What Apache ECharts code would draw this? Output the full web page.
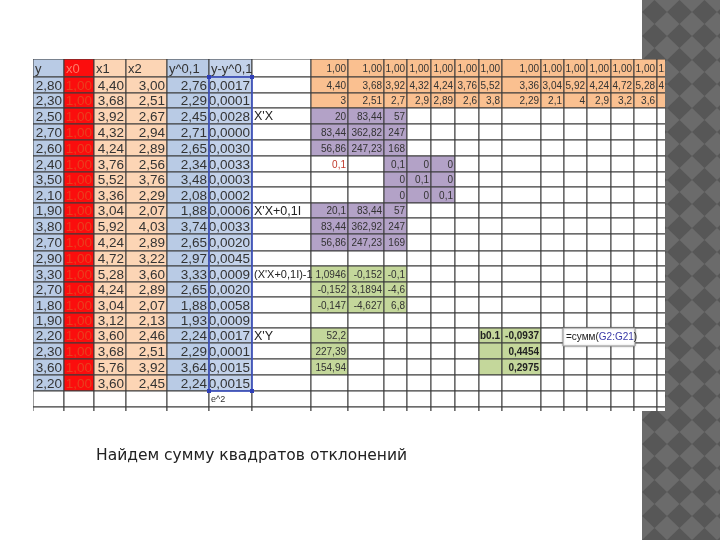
<!DOCTYPE html>
<html>
<head>
<meta charset="utf-8">
<script src="https://cdn.jsdelivr.net/npm/echarts@6/dist/echarts.min.js"></script>
<style>
  html, body { margin: 0; padding: 0; background: #fff; }
  #chart { width: 720px; height: 540px; }
</style>
</head>
<body>
<div id="chart"></div>
<script>
// --- values read from the sheet ---
const headers = ['y', 'x0', 'x1', 'x2', 'y^0,1', 'y-y^0,1'];
const yVals = [2.8, 2.3, 2.5, 2.7, 2.6, 2.4, 3.5, 2.1, 1.9, 3.8, 2.7, 2.9, 3.3, 2.7, 1.8, 1.9, 2.2, 2.3, 3.6, 2.2];
const x0Vals = [1, 1, 1, 1, 1, 1, 1, 1, 1, 1, 1, 1, 1, 1, 1, 1, 1, 1, 1, 1];
const x1Vals = [4.4, 3.68, 3.92, 4.32, 4.24, 3.76, 5.52, 3.36, 3.04, 5.92, 4.24, 4.72, 5.28, 4.24, 3.04, 3.12, 3.6, 3.68, 5.76, 3.6];
const x2Vals = [3, 2.51, 2.67, 2.94, 2.89, 2.56, 3.76, 2.29, 2.07, 4.03, 2.89, 3.22, 3.6, 2.89, 2.07, 2.13, 2.46, 2.51, 3.92, 2.45];
const yHat = [2.76, 2.29, 2.45, 2.71, 2.65, 2.34, 3.48, 2.08, 1.88, 3.74, 2.65, 2.97, 3.33, 2.65, 1.88, 1.93, 2.24, 2.29, 3.64, 2.24];
const resid = [0.0017, 0.0001, 0.0028, 0.0000, 0.0030, 0.0033, 0.0003, 0.0002, 0.0006, 0.0033, 0.0020, 0.0045, 0.0009, 0.0020, 0.0058, 0.0009, 0.0017, 0.0001, 0.0015, 0.0015];

const xtRow0 = [1, 1, 1, 1, 1, 1, 1, 1, 1, 1, 1, 1, 1, 1];
const xtRow1 = [4.4, 3.68, 3.92, 4.32, 4.24, 3.76, 5.52, 3.36, 3.04, 5.92, 4.24, 4.72, 5.28, 4.24];
const xtRow2 = [3, 2.51, 2.7, 2.9, 2.89, 2.6, 3.8, 2.29, 2.1, 4, 2.9, 3.2, 3.6];

const xtx = [[20, 83.44, 57], [83.44, 362.82, 247], [56.86, 247.23, 168]];
const lambda = 0.1;
const identity = [[0.1, 0, 0], [0, 0.1, 0], [0, 0, 0.1]];
const xtxReg = [[20.1, 83.44, 57], [83.44, 362.92, 247], [56.86, 247.23, 169]];
const xtxInv = [[1.0946, -0.152, -0.1], [-0.152, 3.1894, -4.6], [-0.147, -4.627, 6.8]];
const xty = [52.2, 227.39, 154.94];
const coefs = [-0.0937, 0.4454, 0.2975];
const labels = [[3, "X'X"], [9, "X'X+0,1I"], [13, "(X'X+0,1I)-1"], [17, "X'Y"]];

// --- sheet layout (pixel units inside the grid) ---
const colEdges = [0, 31, 61, 93, 134, 176, 219, 278, 315, 351, 374, 398, 422, 446, 469, 508, 531, 554, 578, 601, 624, 647];
const rowEdges = [0, 18, 34, 49, 65, 81, 97, 113, 128, 144, 159, 175, 192, 207, 223, 238, 254, 269, 284, 300, 316, 332, 348, 364];
const nCols = colEdges.length - 1;
const nRows = rowEdges.length - 1;

const BLUE = '#b9cbe5', BLUE2 = '#c3d2ea', RED = '#fb0d0d', PEACH = '#fcd5b5';
const ORANGE = '#fac090', PURPLE = '#b3a2c7', GREEN = '#c4d79b';
const BIG = '13.5px "Liberation Sans", Arial, sans-serif';
const HEAD = '13px "Liberation Sans", Arial, sans-serif';
const SMALL = '10px "Liberation Sans", Arial, sans-serif';
const LABEL = '12.5px "Liberation Sans", Arial, sans-serif';
const LABEL_LONG = '11px "Liberation Sans", Arial, sans-serif';
const BOLD = 'bold 10px "Liberation Sans", Arial, sans-serif';

const fixed = (v, d) => v.toFixed(d).replace('.', ',');
const general = (v) => String(v).replace('.', ',');

// build cell table
const grid = [];
for (let r = 0; r < nRows; r++) {
  grid.push([]);
  for (let c = 0; c < nCols; c++) grid[r].push({ fill: '#fff', text: '', font: SMALL, color: '#333', align: 'right' });
}
const put = (c, r, props) => Object.assign(grid[r][c], props);

const leftFills = [BLUE, RED, PEACH, PEACH, BLUE, BLUE2];
headers.forEach((h, c) => put(c, 0, { fill: leftFills[c], text: h, font: HEAD, align: 'left', color: c === 1 ? '#ff7a66' : '#333' }));
const leftCols = [yVals.map((v) => fixed(v, 2)), x0Vals.map((v) => fixed(v, 2)), x1Vals.map((v) => fixed(v, 2)),
  x2Vals.map((v) => fixed(v, 2)), yHat.map((v) => fixed(v, 2)), resid.map((v) => fixed(v, 4))];
leftCols.forEach((col, c) => col.forEach((t, i) => put(c, i + 1, {
  fill: leftFills[c], text: t, font: BIG, color: c === 1 ? '#e8401f' : '#333'
})));
put(5, 21, { text: 'e^2', font: '9px "Liberation Sans", Arial, sans-serif', align: 'left' });

for (let c = 7; c < nCols; c++) for (let r = 0; r < 3; r++) put(c, r, { fill: ORANGE });
xtRow0.forEach((v, i) => put(7 + i, 0, { text: fixed(v, 2) }));
xtRow1.forEach((v, i) => put(7 + i, 1, { text: fixed(v, 2) }));
xtRow2.forEach((v, i) => put(7 + i, 2, { text: general(v) }));

labels.forEach(([r, t]) => put(6, r, { text: t, font: t.length > 10 ? LABEL_LONG : LABEL, align: 'left', color: '#222' }));

const block = (m, c0, r0, fill, fmt) => m.forEach((row, i) => row.forEach((v, j) => put(c0 + j, r0 + i, { fill, text: fmt(v) })));
block(xtx, 7, 3, PURPLE, general);
put(7, 6, { text: general(lambda), color: '#c0392b' });
block(identity, 9, 6, PURPLE, general);
block(xtxReg, 7, 9, PURPLE, general);
block(xtxInv, 7, 13, GREEN, general);
xty.forEach((v, i) => put(7, 17 + i, { fill: GREEN, text: general(v) }));
put(13, 17, { fill: GREEN, text: 'b0.1', font: BOLD, color: '#222' });
put(13, 18, { fill: GREEN });
put(13, 19, { fill: GREEN });
coefs.forEach((v, i) => put(14, 17 + i, { fill: GREEN, text: fixed(v, 4), font: BOLD, color: '#222' }));

const cells = [];
const cellData = [];
for (let r = 0; r < nRows; r++) for (let c = 0; c < nCols; c++) {
  cells.push(grid[r][c]);
  cellData.push([c, r, cells.length - 1]);
}

// selected range (column, first row, last row) and the formula being typed
const selection = [[5, 1, 20]];
const formula = [[16, 17, '=сумм(', 'G2:G21', ')']];

const box = (api, c0, r0, c1, r1) => {
  const p0 = api.coord([colEdges[c0], rowEdges[r0]]);
  const p1 = api.coord([colEdges[c1], rowEdges[r1]]);
  return { x: p0[0], y: Math.min(p0[1], p1[1]), w: p1[0] - p0[0], h: Math.abs(p1[1] - p0[1]) };
};

// checker tile for the slide strip
const tile = document.createElement('canvas');
tile.width = 25; tile.height = 24;
const tctx = tile.getContext('2d');
tctx.fillStyle = '#6b6b6b';
tctx.fillRect(0, 0, 25, 24);
tctx.fillStyle = '#575757';
tctx.beginPath();
tctx.moveTo(12.5, 0); tctx.lineTo(25, 12); tctx.lineTo(12.5, 24); tctx.lineTo(0, 12);
tctx.closePath(); tctx.fill();

const chart = echarts.init(document.getElementById('chart'));
chart.setOption({
  animation: false,
  title: {
    text: 'Найдем сумму квадратов отклонений',
    left: 91, top: 443,
    textStyle: { fontFamily: '"DejaVu Sans", sans-serif', fontSize: 15.5, fontWeight: 'normal', color: '#222' }
  },
  graphic: [{
    type: 'rect', left: 642, top: 0, z: -10,
    shape: { width: 78, height: 540 },
    style: { fill: { image: tile, repeat: 'repeat' } }
  }],
  grid: { left: 33, top: 59, width: 632, height: 352 },
  xAxis: { type: 'value', min: 0, max: 632, show: false },
  yAxis: { type: 'value', min: 0, max: 352, inverse: true, show: false },
  series: [
    {
      type: 'custom', clip: true, data: cellData,
      renderItem: (params, api) => {
        const c = api.value(0), r = api.value(1), cell = cells[api.value(2)];
        const b = box(api, c, r, c + 1, r + 1);
        const children = [{
          type: 'rect',
          shape: { x: b.x, y: b.y, width: b.w, height: b.h },
          style: { fill: cell.fill, stroke: '#3a3a3a', lineWidth: 1 }
        }];
        if (cell.text) {
          children.push({
            type: 'text', z2: 10,
            style: {
              text: cell.text, font: cell.font, fill: cell.color,
              x: cell.align === 'right' ? b.x + b.w - 2 : b.x + 2, y: b.y + b.h / 2 + 1,
              align: cell.align, verticalAlign: 'middle'
            }
          });
        }
        return { type: 'group', children };
      }
    },
    {
      type: 'custom', clip: true, z: 5, data: selection,
      renderItem: (params, api) => {
        const b = box(api, api.value(0), api.value(1), api.value(0) + 1, api.value(2) + 1);
        const handle = (x, y) => ({ type: 'rect', shape: { x: x - 2, y: y - 2, width: 4, height: 4 }, style: { fill: '#2f3fb8' } });
        return {
          type: 'group', children: [
            { type: 'rect', shape: { x: b.x, y: b.y, width: b.w, height: b.h }, style: { fill: 'none', stroke: '#3f55d0', lineWidth: 1.5 } },
            handle(b.x, b.y), handle(b.x + b.w, b.y), handle(b.x, b.y + b.h), handle(b.x + b.w, b.y + b.h)
          ]
        };
      }
    },
    {
      type: 'custom', clip: true, z: 6, data: formula,
      renderItem: (params, api) => {
        const f = formula[params.dataIndex];
        const b = box(api, f[0], f[1], f[0] + 3, f[1] + 1);
        return {
          type: 'group', children: [
            { type: 'rect', shape: { x: b.x - 1, y: b.y, width: b.w + 2, height: b.h + 3 }, style: { fill: '#fff', stroke: '#9a9a9a', lineWidth: 1, shadowBlur: 2, shadowColor: 'rgba(0,0,0,0.3)' } },
            {
              type: 'text', z2: 10,
              style: {
                text: '{a|' + f[2] + '}{b|' + f[3] + '}{a|' + f[4] + '}', x: b.x + 2, y: b.y + b.h / 2 + 2, verticalAlign: 'middle',
                rich: {
                  a: { font: '10px "Liberation Sans", Arial, sans-serif', fill: '#222' },
                  b: { font: '10px "Liberation Sans", Arial, sans-serif', fill: '#3a3aa8' }
                }
              }
            }
          ]
        };
      }
    }
  ]
});
</script>
</body>
</html>
